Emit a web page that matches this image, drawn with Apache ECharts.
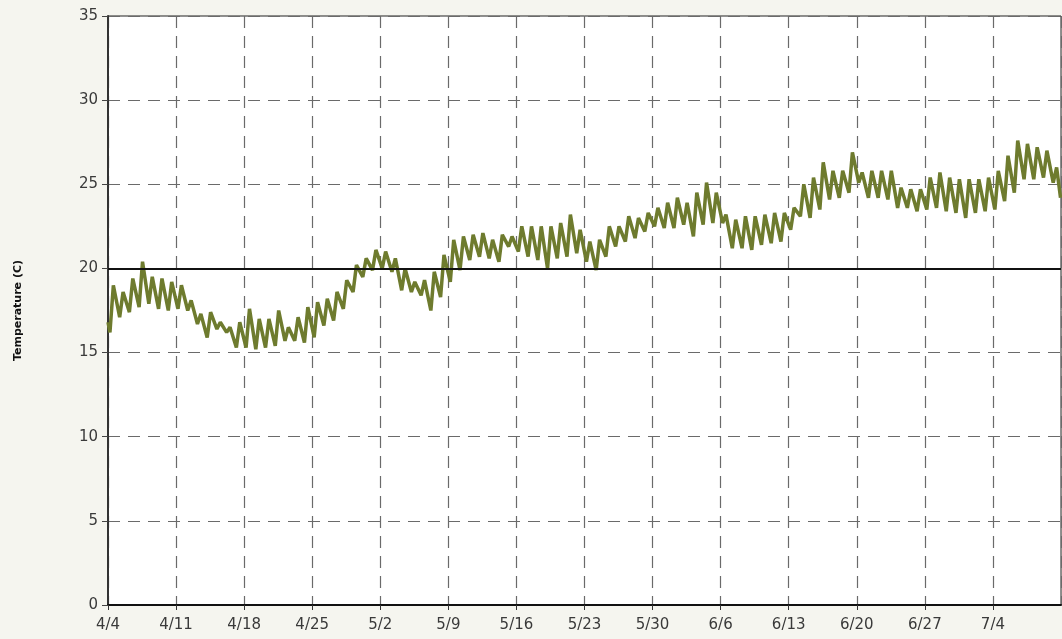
<!DOCTYPE html>
<html>
<head>
<meta charset="utf-8">
<script src="https://cdn.jsdelivr.net/npm/echarts@6/dist/echarts.min.js"></script>
<style>
html,body{margin:0;padding:0;background:#f5f5ef;}
#chart{width:1062px;height:639px;}
</style>
</head>
<body>
<div id="chart"></div>
<script>
// Tick labels for the date axis (every 7 days starting 4/4)
var tickLabels = ['4/4','4/11','4/18','4/25','5/2','5/9','5/16','5/23','5/30','6/6','6/13','6/20','6/27','7/4','7/11'];
// Daily minimum temperature (C), one per day from 4/4
var dayMin = [16.2,17.1,17.4,17.7,17.9,17.6,17.5,17.6,17.5,16.7,
              15.9,16.4,16.2,15.3,15.3,15.2,15.3,15.4,15.7,15.7,
              15.6,15.9,16.6,16.9,17.6,18.6,19.5,19.9,20.0,19.8,
              18.7,18.6,18.4,17.5,18.3,19.2,19.9,20.5,20.7,20.6,
              20.4,21.3,21.0,20.7,20.5,20.0,20.6,20.7,20.9,20.4,
              19.9,20.7,21.3,21.6,21.8,22.2,22.5,22.4,22.4,22.6,
              21.9,22.6,22.7,22.7,21.2,21.2,21.1,21.4,21.5,21.6,
              22.3,23.1,23.0,23.5,24.1,24.2,24.5,25.1,24.2,24.2,
              24.1,23.6,23.6,23.4,23.5,23.6,23.4,23.3,23.0,23.3,
              23.4,23.5,24.0,24.5,25.3,25.3,25.4,25.1];
// Daily maximum temperature (C)
var dayMax = [19.0,18.6,19.4,20.4,19.5,19.4,19.2,19.0,18.1,17.3,
              17.4,16.8,16.5,16.8,17.6,17.0,17.0,17.5,16.5,17.1,
              17.7,18.0,18.2,18.6,19.3,20.2,20.6,21.1,21.0,20.6,
              20.0,19.2,19.3,19.8,20.8,21.7,21.9,22.0,22.1,21.7,
              22.0,21.9,22.5,22.5,22.5,22.5,22.7,23.2,22.3,21.6,
              21.7,22.5,22.5,23.1,23.0,23.3,23.6,23.9,24.2,23.9,
              24.5,25.1,24.5,23.2,22.9,23.1,23.1,23.2,23.3,23.3,
              23.6,25.0,25.4,26.3,25.8,25.8,26.9,25.7,25.8,25.8,
              25.8,24.8,24.7,24.7,25.4,25.7,25.4,25.3,25.3,25.3,
              25.4,25.8,26.7,27.6,27.4,27.2,27.0,26.0];
var startValue = 16.8;
var endValue = 24.2;
var refLine = 20;

var seriesData = [[0, startValue]];
for (var d = 0; d < dayMin.length; d++) {
  seriesData.push([d + 0.2, dayMin[d]]);
  seriesData.push([d + 0.55, dayMax[d]]);
}
seriesData.push([97.95, endValue]);

var font = 'DejaVu Sans, Verdana, sans-serif';
var chart = echarts.init(document.getElementById('chart'), null, {renderer:'canvas'});
var dash = {type:[12,8], color:'#6a6a6a', width:1.2};
chart.setOption({
  backgroundColor:'#f5f5ef',
  animation:false,
  grid:{left:108,right:1,top:16,bottom:34,show:true,backgroundColor:'#ffffff',borderColor:'#222',borderWidth:1},
  xAxis:{
    type:'value',min:0,max:98,interval:7,
    axisLine:{show:true,onZero:false,lineStyle:{color:'#111',width:2}},
    axisTick:{show:true,length:5,lineStyle:{color:'#333'}},
    axisLabel:{showMaxLabel:false,color:'#3a3a3a',fontSize:15,fontFamily:font,margin:13,
      formatter:function(v){return tickLabels[Math.round(v/7)];}},
    splitLine:{show:true,lineStyle:dash}
  },
  yAxis:{
    type:'value',min:0,max:35,interval:5,
    name:'Temperature (C)',nameLocation:'middle',nameGap:84,
    nameTextStyle:{fontSize:11,fontWeight:'bold',color:'#111',fontFamily:font},
    axisLine:{show:true,lineStyle:{color:'#333',width:2}},
    axisTick:{show:true,length:6,lineStyle:{color:'#444'}},
    axisLabel:{color:'#3a3a3a',fontSize:15,fontFamily:font,margin:10},
    splitLine:{show:true,lineStyle:dash}
  },
  series:[{
    type:'line',data:seriesData,showSymbol:false,
    lineStyle:{color:'#6e7b2e',width:3.5},
    markLine:{silent:true,symbol:'none',label:{show:false},
      lineStyle:{color:'#111',width:2,type:'solid'},
      data:[{yAxis:refLine}]}
  }]
});
</script>
</body>
</html>
